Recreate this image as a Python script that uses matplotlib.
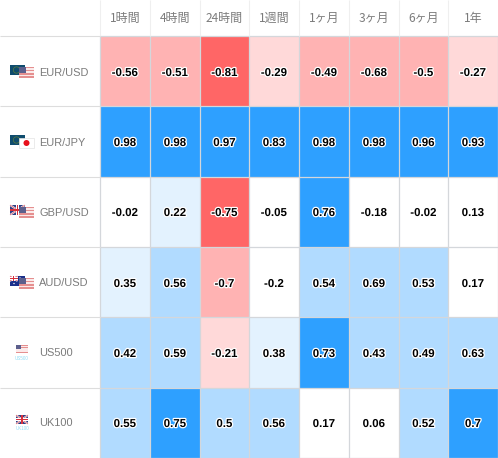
import numpy as np
import matplotlib
matplotlib.use("Agg")
import matplotlib.pyplot as plt
import matplotlib.patheffects as pe
from matplotlib.colors import ListedColormap, BoundaryNorm
from matplotlib.patches import Rectangle, Circle

periods = ["1時間", "4時間", "24時間", "1週間", "1ヶ月", "3ヶ月", "6ヶ月", "1年"]
pairs = ["EUR/USD", "EUR/JPY", "GBP/USD", "AUD/USD", "US500", "UK100"]
eur_usd = ["-0.56", "-0.51", "-0.81", "-0.29", "-0.49", "-0.68", "-0.5", "-0.27"]
eur_jpy = ["0.98", "0.98", "0.97", "0.83", "0.98", "0.98", "0.96", "0.93"]
gbp_usd = ["-0.02", "0.22", "-0.75", "-0.05", "0.76", "-0.18", "-0.02", "0.13"]
aud_usd = ["0.35", "0.56", "-0.7", "-0.2", "0.54", "0.69", "0.53", "0.17"]
us500 = ["0.42", "0.59", "-0.21", "0.38", "0.73", "0.43", "0.49", "0.63"]
uk100 = ["0.55", "0.75", "0.5", "0.56", "0.17", "0.06", "0.52", "0.7"]
rows = [eur_usd, eur_jpy, gbp_usd, aud_usd, us500, uk100]

# colour bands of the table
bounds = [-1.01, -0.705, -0.305, -0.205, 0.195, 0.405, 0.695, 1.01]
band_colors = ["#ff6666", "#ffb3b3", "#ffd9d9", "#ffffff", "#e3f2fe", "#b1dbff", "#2ea0ff"]

x_edges = [100, 150, 200, 249, 299, 349, 399, 448, 498]
y_edges = [36, 106, 177, 247, 317, 388, 458]
GRID = "#d4d7db"
GREY = "#7b7b7b"


def px(size):
    return size * 72 / 100


def eu_flag(ax, x, y):
    ax.add_patch(Rectangle((x, y), 15, 10, fc="#0f4c6e", lw=0, zorder=3))
    ax.add_patch(Circle((x + 6.5, y + 5), 3.2, fc="none", ec="#5d7d3c", lw=0.5, zorder=3))


def us_flag(ax, x, y, w=15, h=11):
    ax.add_patch(Rectangle((x, y), w, h, fc="#fbeaea", lw=0, zorder=4))
    for k in range(0, 7, 2):
        ax.add_patch(Rectangle((x, y + k * h / 7), w, h / 7 * 0.8, fc="#e58f8f", lw=0, zorder=4))
    ax.add_patch(Rectangle((x, y), w * 0.45, h * 0.55, fc="#5c5f8c", lw=0, zorder=5))


def jp_flag(ax, x, y):
    ax.add_patch(Rectangle((x, y), 15, 10, fc="white", ec="#e3e3e3", lw=0.5, zorder=4))
    ax.add_patch(Circle((x + 7.5, y + 5), 3, fc="#e8101c", lw=0, zorder=5))


def uk_flag(ax, x, y, w=15, h=10, z=3):
    ax.add_patch(Rectangle((x, y), w, h, fc="#2f3f86", lw=0, zorder=z))
    ax.plot([x, x + w], [y, y + h], color="white", lw=1.3, zorder=z, solid_capstyle="butt")
    ax.plot([x, x + w], [y + h, y], color="white", lw=1.3, zorder=z, solid_capstyle="butt")
    ax.plot([x, x + w], [y, y + h], color="#d8505c", lw=0.5, zorder=z, solid_capstyle="butt")
    ax.plot([x, x + w], [y + h, y], color="#d8505c", lw=0.5, zorder=z, solid_capstyle="butt")
    ax.add_patch(Rectangle((x, y + h / 2 - 1.3), w, 2.6, fc="white", lw=0, zorder=z))
    ax.add_patch(Rectangle((x + w / 2 - 1.3, y), 2.6, h, fc="white", lw=0, zorder=z))
    ax.add_patch(Rectangle((x, y + h / 2 - 0.7), w, 1.4, fc="#d8303c", lw=0, zorder=z))
    ax.add_patch(Rectangle((x + w / 2 - 0.7, y), 1.4, h, fc="#d8303c", lw=0, zorder=z))


def au_flag(ax, x, y):
    ax.add_patch(Rectangle((x, y), 15, 10, fc="#1b2f8a", lw=0, zorder=3))
    uk_flag(ax, x, y, 7.5, 5, z=3)
    for dx, dy in [(10, 2), (12.5, 4), (10, 7.5), (4, 7.5)]:
        ax.add_patch(Circle((x + dx, y + dy), 0.7, fc="white", lw=0, zorder=3))


plt.rcParams["font.family"] = ["Liberation Sans", "Noto Sans CJK JP"]
fig = plt.figure(figsize=(4.98, 4.58), dpi=100)
ax = fig.add_axes([0, 0, 1, 1])
ax.set_xlim(0, 498)
ax.set_ylim(458, 0)
ax.axis("off")

values = np.array(rows, dtype=float)
cmap = ListedColormap(band_colors)
norm = BoundaryNorm(bounds, cmap.N)
ax.pcolormesh(x_edges, y_edges, values, cmap=cmap, norm=norm, zorder=1)

# grid of the table, header cells and row separators
ax.vlines(x_edges, 36, 458, color=GRID, lw=0.9, zorder=2)
ax.hlines(y_edges, 100, 498, color=GRID, lw=0.9, zorder=2)
ax.vlines(x_edges[:-1], 0, 36, color="#efefef", lw=0.8, zorder=2)
ax.hlines(y_edges[:-1], 0, 100, color="#dddddd", lw=0.8, zorder=2)

for j, name in enumerate(periods):
    ax.text((x_edges[j] + x_edges[j + 1]) / 2, 18.5, name, ha="center", va="center",
            fontsize=px(12), color=GREY, family=["Noto Sans CJK JP"])

label_y = [72.5, 142.5, 212.5, 283.5, 353.5, 423.5]
for i, name in enumerate(pairs):
    ax.text(39, label_y[i], name, ha="left", va="center", fontsize=px(11), color=GREY)
    for j, val in enumerate(rows[i]):
        ax.text((x_edges[j] + x_edges[j + 1]) / 2, label_y[i] + 0.5, val, ha="center", va="center",
                fontsize=px(11.5), fontweight="bold", color="black", zorder=6,
                path_effects=[pe.withStroke(linewidth=1.8, foreground="white")])

eu_flag(ax, 10, 65)
us_flag(ax, 19, 67)
eu_flag(ax, 10, 135)
jp_flag(ax, 19, 138)
uk_flag(ax, 10, 205)
us_flag(ax, 19, 207)
au_flag(ax, 10, 276)
us_flag(ax, 19, 278)
us_flag(ax, 16, 345, 12, 8)
ax.text(22, 358, "US500", ha="center", va="center", fontsize=px(4.5), color="#8fdcf5")
uk_flag(ax, 16, 415, 12, 9)
ax.text(22, 428, "UK100", ha="center", va="center", fontsize=px(4.5), color="#8fdcf5")

fig.savefig("out.png", dpi=100)
